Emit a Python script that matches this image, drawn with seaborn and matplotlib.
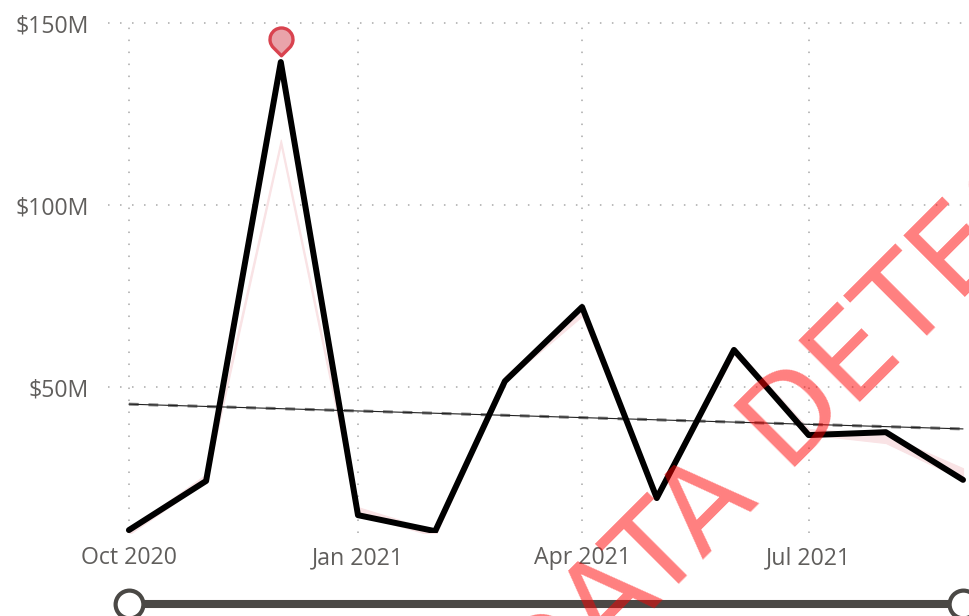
import matplotlib
matplotlib.use("Agg")
import matplotlib.pyplot as plt
import numpy as np
import pandas as pd
import seaborn as sns
from matplotlib.path import Path

months = ["2020-10-01", "2020-11-01", "2020-12-01", "2021-01-01", "2021-02-01", "2021-03-01",
          "2021-04-01", "2021-05-01", "2021-06-01", "2021-07-01", "2021-08-01", "2021-09-01"]
actual = [10.7, 24.2, 139.3, 14.8, 10.4, 51.6, 72.0, 19.5, 60.2, 36.8, 37.6, 24.5]
band_low = [9.5, 24.0, 116.5, 15.0, 9.0, 51.5, 69.5, 19.0, 59.0, 37.0, 34.6, 24.5]
band_high = [11.0, 26.0, 118.0, 17.0, 10.5, 53.0, 71.0, 20.5, 61.0, 38.5, 37.0, 27.7]
trend_months = ["2020-10-01", "2021-09-01"]
trend = [45.3, 38.5]
anomaly_month = ["2020-12-01"]
anomaly_value = [139.3]

y_ticks = [50, 100, 150]
y_labels = ["$50M", "$100M", "$150M"]
x_ticks = ["2020-10-01", "2021-01-01", "2021-04-01", "2021-07-01"]
x_labels = ["Oct 2020", "Jan 2021", "Apr 2021", "Jul 2021"]

W, H = 970, 616


def pin_marker():
    # teardrop with its origin on the data point, floating above it
    arc = Path.arc(-45, 225)
    verts = arc.vertices * 11.5 + [0, 23]
    verts = np.vstack([verts, [0, 6.7], [0, 6.7]])
    codes = list(arc.codes) + [Path.LINETO, Path.CLOSEPOLY]
    return Path(verts, codes)


def main():
    sns.set_style("white")
    plt.rcParams["font.family"] = ["Open Sans", "DejaVu Sans"]

    df = pd.DataFrame({"month": pd.to_datetime(months), "actual": actual,
                       "low": band_low, "high": band_high})
    trend_df = pd.DataFrame({"month": pd.to_datetime(trend_months), "trend": trend})
    anomaly_df = pd.DataFrame({"month": pd.to_datetime(anomaly_month), "value": anomaly_value})

    fig = plt.figure(figsize=(W / 100, H / 100), dpi=100)
    ax = fig.add_axes([108 / W, 1 - 533 / H, (W - 108) / W, 515 / H])

    ax.fill_between(df["month"], df["low"], df["high"], color="#f9e3e5", lw=0.8, zorder=1)

    # trend: grey dashes over a hairline
    sns.lineplot(data=trend_df, x="month", y="trend", ax=ax, color="#808080", lw=2.2,
                 linestyle=(0, (3.2, 3.2)), zorder=2)
    sns.lineplot(data=trend_df, x="month", y="trend", ax=ax, color="#222222", lw=0.8, zorder=2)

    sns.lineplot(data=df, x="month", y="actual", ax=ax, color="black", lw=4.3,
                 solid_capstyle="round", solid_joinstyle="round", zorder=3)

    sns.scatterplot(data=anomaly_df, x="month", y="value", ax=ax, marker=pin_marker(), s=2470,
                    color="#e9a3aa", edgecolor="#d9434f", linewidth=2.4, clip_on=False, zorder=4)

    ax.set_xlim(pd.Timestamp(months[0]) - pd.Timedelta(days=8.4),
                pd.Timestamp(months[0]) + pd.Timedelta(days=337.8))
    ax.set_ylim(9.9, 151.4)
    ax.set_xticks(pd.to_datetime(x_ticks), labels=x_labels)
    ax.set_yticks(y_ticks, labels=y_labels)
    ax.set_xlabel("")
    ax.set_ylabel("")
    ax.grid(True, color="#bcbcbc", lw=1.4, linestyle=(0, (0.8, 5.37)))
    ax.set_axisbelow(True)
    ax.tick_params(length=0, labelsize=16.7, labelcolor="#605e5c")
    ax.tick_params(axis="y", pad=14)
    ax.tick_params(axis="x", pad=9.5)
    for label in ax.get_yticklabels():
        label.set_verticalalignment("center_baseline")
    sns.despine(ax=ax, left=True, bottom=True, right=True, top=True)

    # date slider under the axis
    ends = pd.to_datetime([months[0], months[-1]])
    tr = ax.get_xaxis_transform()
    ax.plot(ends, [-0.138, -0.138], transform=tr, color="#4a4845", lw=5.8,
            solid_capstyle="butt", clip_on=False, zorder=5)
    ax.plot(ends, [-0.138, -0.138], transform=tr, ls="none", marker="o", ms=20,
            mfc="white", mec="#4a4845", mew=3, clip_on=False, zorder=6)

    fig.text(543 / W, 1 - 720 / H, "DATA DETECTED", rotation=45, rotation_mode="anchor",
             ha="left", va="baseline", fontsize=86, family="DejaVu Sans", color="red",
             alpha=0.5, zorder=10)

    fig.savefig("out.png", dpi=100)


if __name__ == "__main__":
    main()
